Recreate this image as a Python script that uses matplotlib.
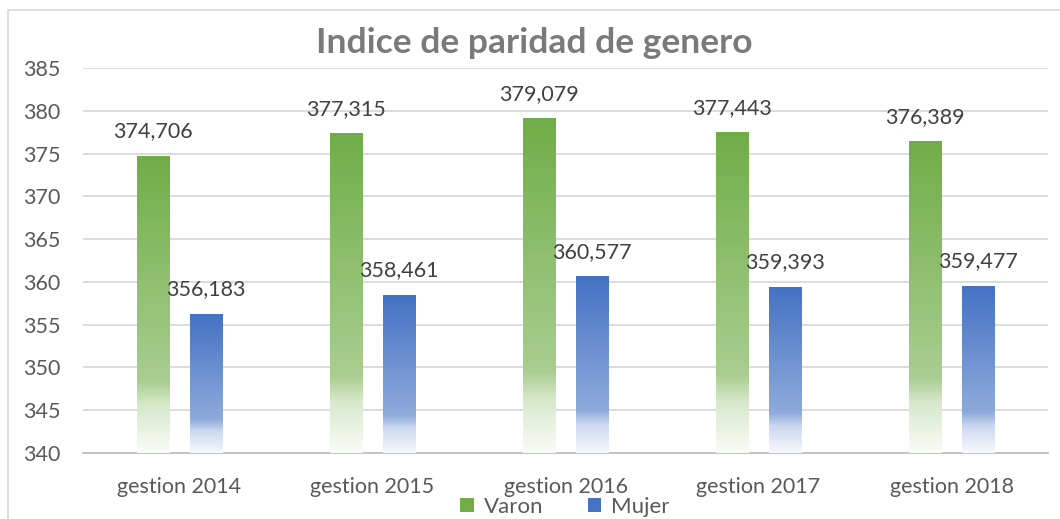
import numpy as np
import matplotlib
matplotlib.use("Agg")
import matplotlib.pyplot as plt
from matplotlib.patches import Rectangle
from matplotlib.colors import to_rgb

# data
categories = ["gestion 2014", "gestion 2015", "gestion 2016", "gestion 2017", "gestion 2018"]
varon = [374.706, 377.315, 379.079, 377.443, 376.389]
mujer = [356.183, 358.461, 360.577, 359.393, 359.477]
varon_labels = ["374,706", "377,315", "379,079", "377,443", "376,389"]
mujer_labels = ["356,183", "358,461", "360,577", "359,393", "359,477"]
yticks = [340, 345, 350, 355, 360, 365, 370, 375, 380, 385]

GREEN = "#70AD47"
BLUE = "#4472C4"
plt.rcParams['font.family'] = ['Lato', 'DejaVu Sans']


def gradient_img(color, n=200):
    # top = full colour, fades to near white at the bottom
    base = np.array(to_rgb(color))
    white = np.ones(3)
    t = np.linspace(0, 1, n)
    stops_t = [0.0, 0.76, 0.84, 1.0]
    stops_m = [0.0, 0.40, 0.72, 0.96]
    m = np.interp(t, stops_t, stops_m)
    img = base[None, :] * (1 - m[:, None]) + white[None, :] * m[:, None]
    return img[:, None, :]


fig = plt.figure(figsize=(10.6, 5.19), dpi=100)
ax = fig.add_axes([0.0783, 0.1272, 0.9104, 0.7418])

x = np.arange(len(categories))
off = 0.137
w = 0.166
ymin = 340

for vals, labs, col, sign in [(varon, varon_labels, GREEN, -1), (mujer, mujer_labels, BLUE, 1)]:
    bars = ax.bar(x + sign * off, np.array(vals) - ymin, w, bottom=ymin,
                  facecolor="none", edgecolor="none", zorder=3)
    img = gradient_img(col)
    for b, v, lab in zip(bars, vals, labs):
        ax.imshow(img, extent=[b.get_x(), b.get_x() + b.get_width(), ymin, v],
                  aspect="auto", zorder=3, interpolation="bilinear")
        ax.annotate(lab, (b.get_x() + b.get_width() / 2, v), xytext=(0, 18),
                    textcoords="offset points", ha="center", va="center",
                    fontsize=15.5, color="#404040", zorder=5)

ax.set_xlim(-0.5, len(categories) - 0.5)
ax.set_ylim(340, 385)
ax.set_yticks(yticks)
ax.set_xticks(x)
ax.set_xticklabels(categories)
ax.tick_params(axis="both", length=0, labelsize=15.5, labelcolor="#595959")
ax.tick_params(axis="y", pad=16)
ax.tick_params(axis="x", pad=17)
ax.grid(axis="y", color="#D9D9D9", linewidth=1.3, zorder=0)
ax.set_axisbelow(True)
for s in ["top", "right", "left"]:
    ax.spines[s].set_visible(False)
ax.spines["bottom"].set_color("#BFBFBF")
ax.spines["bottom"].set_linewidth(1.3)

fig.text(0.504, 0.918, "Indice de paridad de genero", ha="center", va="center",
         fontsize=25.5, fontweight="bold", color="#7a7a7a")

handles = [Rectangle((0, 0), 1, 1, facecolor=GREEN), Rectangle((0, 0), 1, 1, facecolor=BLUE)]
fig.legend(handles, ["Varon", "Mujer"], loc="center", bbox_to_anchor=(0.533, 0.024),
           ncol=2, frameon=False, fontsize=16, labelcolor="#595959",
           handlelength=0.6, handleheight=0.6, handletextpad=0.45, columnspacing=2.0)

# chart border
fig.patches.append(Rectangle((8 / 1060, -0.1), 1.2, (519 - 10) / 519 + 0.1,
                             transform=fig.transFigure, facecolor="none",
                             edgecolor="#D9D9D9", linewidth=1.2))

fig.savefig("out.png", dpi=100)
